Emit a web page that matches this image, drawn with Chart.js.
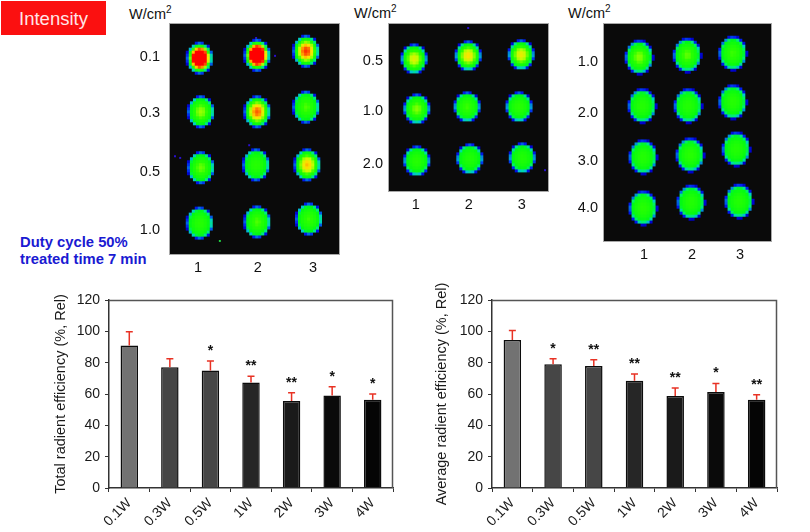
<!DOCTYPE html>
<html>
<head>
<meta charset="utf-8">
<title>Radiant efficiency</title>
<script src="https://cdn.jsdelivr.net/npm/chart.js@4/dist/chart.umd.min.js"></script>
<style>
  html, body { margin: 0; padding: 0; background: #fff; }
  body { position: relative; width: 810px; height: 532px; overflow: hidden; font-family: "Liberation Sans", Arial, sans-serif; color: #111; }
  canvas { position: absolute; }
  .note { position: absolute; white-space: nowrap; }
  .unit { font-size: 14.5px; line-height: 16px; }
  .unit sup { font-size: 10px; line-height: 0; vertical-align: 6px; }
  #badge { left: 1px; top: 1px; width: 105px; height: 34px; line-height: 36px; background: #fb1010; color: #ffe6e6; font-size: 18.5px; text-align: center; }
  #duty { left: 20px; top: 234px; color: #1a1ad2; font-weight: bold; font-size: 14.8px; line-height: 17px; }
</style>
</head>
<body>
<div class="note" id="badge">Intensity</div>
<div class="note unit" style="left:129px;top:6px">W/cm<sup>2</sup></div>
<div class="note unit" style="left:354px;top:5px">W/cm<sup>2</sup></div>
<div class="note unit" style="left:568px;top:5px">W/cm<sup>2</sup></div>
<div class="note" id="duty">Duty cycle 50%<br>treated time 7 min</div>

<script>
// bar charts
const doses = ['0.1W', '0.3W', '0.5W', '1W', '2W', '3W', '4W'];
const totalEff = [91, 77, 75, 67.3, 55.5, 59, 56.4];
const totalErrTop = [99.8, 82.5, 81, 71.4, 60.8, 64.6, 60];
const totalStars = ['', '', '*', '**', '**', '*', '*'];
const avgEff = [94.5, 79, 77.8, 68.5, 58.8, 61.2, 56.4];
const avgErrTop = [100.6, 82.5, 81.9, 72.7, 63.8, 66.7, 59.5];
const avgStars = ['', '*', '**', '**', '**', '*', '**'];
const barColors = ['#727272', '#464646', '#464646', '#262626', '#1a1a1a', '#0a0a0a', '#050505'];
const yTicks = [0, 20, 40, 60, 80, 100, 120];

// well panels: position in well units (column, row) and peak signal per spot
const p1Rows = ['0.1', '0.3', '0.5', '1.0'];
const p1Cols = [1.03, 2.03, 2.88, 1.05, 2.03, 2.88, 1.05, 2.01, 2.90, 1.03, 2.03, 2.93];
const p1Ys = [1.02, 0.97, 0.90, 1.95, 1.95, 1.87, 2.92, 2.87, 2.87, 3.88, 3.86, 3.81];
const p1Peaks = [1.5, 1.55, 0.95, 0.6, 0.9, 0.52, 0.55, 0.46, 0.8, 0.46, 0.52, 0.5];

const p2Rows = ['0.5', '1.0', '2.0'];
const p2Cols = [0.97, 1.99, 2.99, 1.02, 1.97, 2.95, 1.02, 2.02, 3.01];
const p2Ys = [0.96, 0.90, 0.88, 1.93, 1.89, 1.89, 2.94, 2.90, 2.88];
const p2Peaks = [0.7, 0.76, 0.72, 0.58, 0.5, 0.47, 0.46, 0.42, 0.42];

const p3Rows = ['1.0', '2.0', '3.0', '4.0'];
const p3Cols = [0.90, 1.90, 2.85, 0.96, 1.92, 2.85, 0.98, 1.96, 2.92, 0.98, 1.98, 2.98];
const p3Ys = [0.90, 0.86, 0.82, 1.90, 1.90, 1.82, 2.95, 2.91, 2.79, 4.0, 3.88, 3.86];
const p3Peaks = [0.58, 0.54, 0.5, 0.45, 0.44, 0.46, 0.44, 0.47, 0.44, 0.46, 0.44, 0.44];

const wellLabels = ['1', '2', '3'];

// stray specks of signal on the plates
const p1SpeckX = [1.89, 0.6, 0.69, 1.38, 2.01, 2.34];
const p1SpeckY = [2.53, 2.72, 2.75, 4.19, 0.67, 0.98];
const p1SpeckColors = ['#2a10d0', '#2a10d0', '#2a10d0', '#20d040', '#2a10d0', '#2a10d0'];
const p2SpeckX = [1.99, 3.44];
const p2SpeckY = [0.36, 3.12];
const p2SpeckColors = ['#2a10d0', '#2a10d0'];

const FONT = '"Liberation Sans", Arial, sans-serif';
const heatStops = [
  [0, 0, 0, 200], [0.05, 0, 30, 240], [0.1, 0, 200, 210], [0.15, 0, 240, 110],
  [0.2, 0, 250, 20], [0.48, 40, 255, 0], [0.64, 190, 255, 0], [0.76, 255, 225, 0],
  [0.88, 255, 110, 0], [1, 255, 0, 0]
];

function heatColor(v) {
  v = Math.max(0, Math.min(1, v));
  for (let i = 1; i < heatStops.length; i++) {
    const a = heatStops[i - 1], b = heatStops[i];
    if (v <= b[0]) {
      const t = (v - a[0]) / (b[0] - a[0]);
      return `rgb(${a[1] + (b[1] - a[1]) * t},${a[2] + (b[2] - a[2]) * t},${a[3] + (b[3] - a[3]) * t})`;
    }
  }
  return 'rgb(255,0,0)';
}

// one spot as a point image, blocky like the camera pixels
function spotImage(peak, rx, ry) {
  const w = Math.ceil(rx * 2) + 6, h = Math.ceil(ry * 2) + 6;
  const raw = document.createElement('canvas');
  raw.width = w; raw.height = h;
  const c = raw.getContext('2d');
  const cell = 3;
  for (let y = 0; y < h; y += cell) {
    for (let x = 0; x < w; x += cell) {
      const dx = (x + 1.5 - w / 2) / rx, dy = (y + 1.5 - h / 2) / ry;
      const d2 = dx * dx + dy * dy;
      if (d2 > 1) continue;
      // rim looks alike on every spot, only the core follows the peak
      const core = Math.max(0, 1 - d2 / 0.7);
      c.fillStyle = heatColor(0.45 * (1 - d2) + (peak - 0.45) * core);
      c.fillRect(x, y, cell, cell);
    }
  }
  const out = document.createElement('canvas');
  out.width = w; out.height = h;
  const o = out.getContext('2d');
  o.filter = 'blur(0.5px)';
  o.drawImage(raw, 0, 0);
  return out;
}

function addCanvas(left, top, width, height) {
  const cv = document.createElement('canvas');
  cv.width = width; cv.height = height;
  cv.style.left = left + 'px';
  cv.style.top = top + 'px';
  cv.style.width = width + 'px';
  cv.style.height = height + 'px';
  document.body.appendChild(cv);
  return cv;
}

const plateFrame = {
  id: 'plateFrame',
  beforeDatasetsDraw(chart) {
    const a = chart.chartArea, c = chart.ctx;
    c.save();
    c.fillStyle = '#0a0a0a';
    c.fillRect(a.left, a.top, a.width, a.height);
    c.strokeStyle = '#a8a8a8';
    c.lineWidth = 1;
    c.strokeRect(a.left - 0.5, a.top - 0.5, a.width + 1, a.height + 1);
    c.restore();
  }
};

function plate(cfg) {
  const a = cfg.area;
  const cv = addCanvas(a.left - 45, a.top - 10, a.right - a.left + 46, a.bottom - a.top + 36);
  const spots = cfg.cols.map((x, i) => ({ x: x, y: cfg.ys[i] }));
  const specks = (cfg.speckX || []).map((x, i) => ({ x: x, y: cfg.speckY[i] }));
  new Chart(cv, {
    type: 'scatter',
    data: {
      datasets: [
        { data: spots, pointStyle: cfg.peaks.map(p => spotImage(p, cfg.rx, cfg.ry)), pointRadius: 10 },
        { data: specks, pointStyle: 'rect', pointRadius: 1.4, pointBorderWidth: 0, pointBackgroundColor: cfg.speckColors || [] }
      ]
    },
    plugins: [plateFrame],
    options: {
      responsive: false,
      animation: false,
      layout: { autoPadding: false, padding: { top: 10, right: 1, left: 0, bottom: 0 } },
      plugins: { legend: { display: false }, tooltip: { enabled: false } },
      scales: {
        x: {
          type: 'linear', bounds: 'data', min: cfg.xRange[0], max: cfg.xRange[1],
          grid: { display: false, drawTicks: false }, border: { display: false },
          afterBuildTicks(s) { s.ticks = cfg.xTicks.map(v => ({ value: v })); },
          afterFit(s) { s.height = 26; s.paddingLeft = 0; s.paddingRight = 0; },
          ticks: {
            autoSkip: false, maxRotation: 0, padding: 5, color: '#111',
            font: { family: FONT, size: 14.5 },
            callback: (v, i) => wellLabels[i]
          }
        },
        y: {
          type: 'linear', bounds: 'data', reverse: true, min: cfg.yRange[0], max: cfg.yRange[1],
          grid: { display: false, drawTicks: false }, border: { display: false },
          afterBuildTicks(s) { s.ticks = cfg.yTicks.map(v => ({ value: v })); },
          afterFit(s) { s.width = 45; s.paddingTop = 0; s.paddingBottom = 0; },
          ticks: {
            autoSkip: false, padding: cfg.labelGap, color: '#111',
            font: { family: FONT, size: 14.5 },
            callback: (v, i) => cfg.rows[i]
          }
        }
      }
    }
  });
}

plate({
  area: { left: 170, top: 24, right: 339, bottom: 254 }, rows: p1Rows, labelGap: 10, rx: 13.6, ry: 16.4,
  cols: p1Cols, ys: p1Ys, peaks: p1Peaks, speckX: p1SpeckX, speckY: p1SpeckY, speckColors: p1SpeckColors,
  xRange: [0.513, 3.452], yRange: [0.428, 4.416], xTicks: [1, 2.04, 3], yTicks: [1, 1.97, 2.99, 4]
});
plate({
  area: { left: 389, top: 24, right: 548, bottom: 191 }, rows: p2Rows, labelGap: 6, rx: 13.4, ry: 15.2,
  cols: p2Cols, ys: p2Ys, peaks: p2Peaks, speckX: p2SpeckX, speckY: p2SpeckY, speckColors: p2SpeckColors,
  xRange: [0.496, 3.496], yRange: [0.282, 3.524], xTicks: [1, 2, 3], yTicks: [1, 1.97, 3]
});
plate({
  area: { left: 604, top: 24, right: 771, bottom: 241 }, rows: p3Rows, labelGap: 6, rx: 14.2, ry: 17.2,
  cols: p3Cols, ys: p3Ys, peaks: p3Peaks,
  xRange: [0.167, 3.646], yRange: [0.219, 4.678], xTicks: [1, 2, 3], yTicks: [1, 2.05, 3.03, 4]
});

function barPanel(left, width, axisWidth, title, values, errTop, stars) {
  const cv = addCanvas(left, 280, width, 252);
  const overlay = {
    id: 'errorsAndStars',
    afterDatasetsDraw(chart) {
      const c = chart.ctx, a = chart.chartArea, yS = chart.scales.y;
      const bars = chart.getDatasetMeta(0).data;
      c.save();
      c.strokeStyle = '#555';
      c.lineWidth = 1.5;
      c.beginPath();
      c.moveTo(a.left, a.top + 0.5);
      c.lineTo(a.right - 0.5, a.top + 0.5);
      c.lineTo(a.right - 0.5, a.bottom);
      c.stroke();
      bars.forEach((b, i) => {
        const top = yS.getPixelForValue(errTop[i]);
        c.strokeStyle = '#e83224';
        c.lineWidth = 1.5;
        c.beginPath();
        c.moveTo(b.x, yS.getPixelForValue(values[i]));
        c.lineTo(b.x, top);
        c.moveTo(b.x - 3.5, top);
        c.lineTo(b.x + 3.5, top);
        c.stroke();
        c.fillStyle = '#111';
        c.font = 'bold 14px ' + FONT;
        c.textAlign = 'center';
        c.textBaseline = 'middle';
        c.fillText(stars[i], b.x, top - 10);
      });
      c.restore();
    }
  };
  new Chart(cv, {
    type: 'bar',
    data: {
      labels: doses,
      datasets: [{
        data: values,
        backgroundColor: barColors,
        borderColor: '#0c0c0c',
        borderWidth: 1.5,
        barPercentage: 0.43,
        categoryPercentage: 1
      }]
    },
    plugins: [overlay],
    options: {
      responsive: false,
      animation: false,
      layout: { autoPadding: false, padding: { top: 20, right: 1, left: 0, bottom: 0 } },
      plugins: { legend: { display: false }, tooltip: { enabled: false } },
      scales: {
        x: {
          grid: { offset: true, drawOnChartArea: false, tickLength: 4, color: '#333' },
          border: { color: '#333', width: 1.5 },
          afterFit(s) { s.height = 44; s.paddingLeft = 0; s.paddingRight = 0; },
          ticks: {
            autoSkip: false, maxRotation: 45, minRotation: 45, padding: 3, color: '#1a1a1a',
            font: { family: FONT, size: 14 }
          }
        },
        y: {
          min: 0, max: 120,
          grid: { drawOnChartArea: false, tickLength: 4, color: '#333' },
          border: { color: '#333', width: 1.5 },
          afterBuildTicks(s) { s.ticks = yTicks.map(v => ({ value: v })); },
          afterFit(s) { s.width = axisWidth; s.paddingTop = 0; s.paddingBottom = 0; },
          title: {
            display: true, text: title, color: '#1a1a1a', padding: 0,
            font: { family: FONT, size: 14.5 }
          },
          ticks: {
            padding: 5, color: '#1a1a1a',
            font: { family: FONT, size: 14 }
          }
        }
      }
    }
  });
}

barPanel(52, 342, 57, 'Total radient efficiency (%, Rel)', totalEff, totalErrTop, totalStars);
barPanel(433, 345, 59, 'Average radient efficiency (%, Rel)', avgEff, avgErrTop, avgStars);
</script>
</body>
</html>
